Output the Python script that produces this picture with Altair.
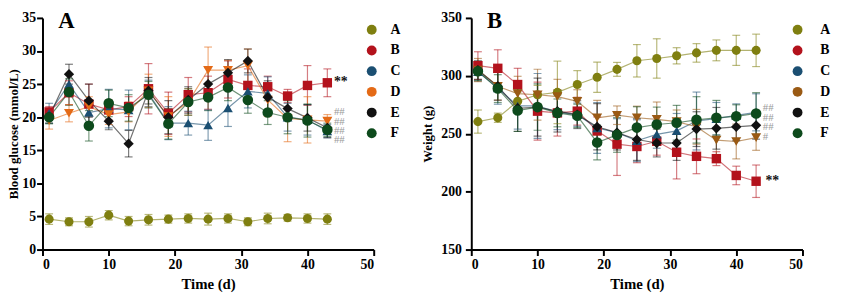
import altair as alt
import pandas as pd

days = [1, 4, 7, 10, 13, 16, 19, 22, 25, 28, 31, 34, 37, 40, 43]
groups = ["A", "B", "C", "D", "E", "F"]

# Blood glucose (mmol/L): means and error bars
glu_mean = {
    "A": [4.6, 4.2, 4.2, 5.2, 4.3, 4.5, 4.6, 4.7, 4.6, 4.7, 4.2, 4.7, 4.8, 4.7, 4.6],
    "B": [20.8, 23.7, 22.0, 21.1, 21.6, 24.3, 20.6, 23.4, 23.7, 25.7, 24.8, 24.6, 23.2, 24.8, 25.2],
    "C": [20.6, 25.0, 20.7, 21.3, 21.1, 23.6, 19.1, 19.1, 18.8, 21.4, 23.9, 23.6, 20.0, 19.6, 17.9],
    "D": [19.5, 20.6, 21.6, 20.4, 20.8, 24.0, 20.1, 22.3, 27.1, 27.1, 27.8, 22.6, 19.8, 19.6, 19.4],
    "E": [20.1, 26.5, 22.5, 19.4, 16.0, 24.0, 20.0, 22.6, 25.0, 26.7, 28.5, 23.0, 21.3, 19.9, 18.4],
    "F": [20.0, 23.8, 18.7, 22.1, 21.4, 23.4, 19.0, 22.3, 23.0, 24.5, 22.6, 20.7, 20.0, 19.5, 18.1],
}
glu_err = {
    "A": [0.8, 0.6, 0.8, 0.7, 0.7, 0.8, 0.6, 0.7, 0.9, 0.7, 0.6, 0.8, 0.5, 0.7, 0.8],
    "B": [0.8, 1.8, 3.0, 1.5, 1.5, 3.8, 3.2, 2.6, 2.5, 2.8, 2.5, 1.6, 1.0, 3.0, 2.1],
    "C": [1.5, 1.5, 1.5, 2.9, 3.0, 2.0, 2.5, 1.8, 2.3, 2.8, 2.5, 2.5, 2.1, 2.3, 1.0],
    "D": [1.3, 1.3, 1.5, 1.5, 1.5, 2.5, 3.0, 2.0, 3.5, 1.5, 2.5, 2.5, 3.5, 3.5, 1.0],
    "E": [1.0, 1.5, 2.5, 1.3, 2.0, 2.0, 2.5, 2.0, 2.5, 2.0, 1.8, 2.5, 1.5, 2.0, 1.5],
    "F": [1.0, 2.0, 2.3, 2.0, 2.0, 2.0, 2.3, 2.0, 2.0, 2.0, 2.0, 1.8, 2.5, 2.5, 1.0],
}

# Weight (g): means and error bars
wt_mean = {
    "A": [260.5, 263.8, 278.0, 283.7, 285.7, 292.5, 298.8, 305.6, 313.0, 315.0, 317.3, 319.8, 322.0, 322.0, 322.0],
    "B": [308.8, 306.5, 292.5, 269.5, 268.0, 269.5, 252.5, 241.0, 239.0, 243.5, 234.0, 230.5, 228.5, 214.0, 209.0],
    "C": [303.5, 289.5, 274.0, 274.0, 268.5, 266.5, 255.0, 251.0, 244.0, 249.5, 252.5, 261.0, 263.0, 265.8, 268.5],
    "D": [305.0, 291.0, 284.6, 283.7, 282.0, 278.0, 263.8, 266.0, 263.8, 262.4, 260.5, 256.0, 244.5, 243.3, 246.7],
    "E": [305.0, 291.0, 272.0, 273.0, 269.5, 266.5, 256.0, 251.0, 245.0, 242.0, 242.0, 254.0, 254.7, 256.0, 257.3],
    "F": [304.0, 289.0, 270.0, 273.0, 268.0, 265.5, 242.5, 249.0, 255.3, 258.0, 259.5, 262.0, 263.8, 265.0, 267.5],
}
wt_err = {
    "A": [10, 4, 8, 8, 27, 12, 13, 6, 14, 17, 7, 8, 9, 13, 14],
    "B": [12, 16, 14, 25, 20, 12, 12, 27, 14, 12, 23, 15, 6, 8, 14],
    "C": [8, 14, 20, 28, 15, 10, 22, 12, 18, 12, 15, 25, 14, 10, 16],
    "D": [10, 12, 15, 22, 15, 10, 15, 8, 10, 15, 10, 15, 18, 15, 11],
    "E": [8, 12, 20, 25, 18, 12, 20, 15, 18, 12, 15, 15, 18, 12, 12],
    "F": [8, 12, 18, 20, 12, 10, 15, 15, 18, 15, 15, 20, 15, 10, 18],
}

# significance annotations: "**" vs normal, "#"/"##" vs model
glu_star = ["**"]
glu_star_x = [44.0]
glu_star_y = [25.3]
glu_hash = ["##", "##", "##", "##"]
glu_hash_x = [44.0, 44.0, 44.0, 44.0]
glu_hash_y = [20.8, 19.3, 17.9, 16.5]

wt_star = ["**"]
wt_star_x = [44.4]
wt_star_y = [209]
wt_hash = ["##", "##", "##", "#"]
wt_hash_x = [44.0, 44.0, 44.0, 44.0]
wt_hash_y = [272.3, 263.8, 256.1, 246.8]

colors_glu = ["#7f7f10", "#b3121c", "#1b4f72", "#e46a16", "#111111", "#0d4a1c"]
colors_wt = ["#7f7f10", "#b3121c", "#1b4f72", "#9a5a14", "#111111", "#0d4a1c"]
shapes = ["circle", "square", "triangle-up", "triangle-down", "diamond", "circle"]
sizes = [85, 115, 75, 75, 45, 130]

FONT = "Liberation Serif"
W, H = 336, 235


def make_df(mean, err):
    rows = []
    for g in groups:
        for d, m, e in zip(days, mean[g], err[g]):
            rows.append({"day": d, "group": g, "mean": m, "lo": m - e, "hi": m + e})
    return pd.DataFrame(rows)


def panel(mean, err, colors, ydom, ystep, ytitle, letter, star, star_x, star_y,
          hsh, hsh_x, hsh_y, legoff, laboff, tpad, lpad):
    df = make_df(mean, err)
    xs = alt.Scale(domain=[0, 50], nice=False, padding=0, zero=False)
    ys = alt.Scale(domain=ydom, nice=False, padding=0, zero=False)
    xax = alt.Axis(title="Time (d)", values=list(range(0, 51, 10)), grid=False,
                   domainWidth=2, tickWidth=2, tickSize=6, domainColor="black",
                   tickColor="black", labelFont=FONT, labelFontWeight="bold",
                   labelFontSize=14, labelColor="black", titleFont=FONT,
                   titleFontWeight="bold", titleFontSize=15, titleColor="black",
                   labelPadding=2, titlePadding=6, labelOverlap=False)
    yax = alt.Axis(title=ytitle, values=list(range(ydom[0], ydom[1] + 1, ystep)), grid=False,
                   domainWidth=2, tickWidth=2, tickSize=6, domainColor="black",
                   tickColor="black", labelFont=FONT, labelFontWeight="bold",
                   labelFontSize=14, labelColor="black", titleFont=FONT,
                   titleFontWeight="bold", titleFontSize=13, titleColor="black",
                   labelPadding=lpad, titlePadding=tpad, labelOverlap=False)
    X = lambda f: alt.X(f"{f}:Q", scale=xs, axis=xax)
    Y = lambda f: alt.Y(f"{f}:Q", scale=ys, axis=yax)
    cnl = alt.Color("group:N", scale=alt.Scale(domain=groups, range=colors), legend=None)
    col = alt.Color("group:N", scale=alt.Scale(domain=groups, range=colors),
                    legend=alt.Legend(orient="right", offset=legoff, padding=5, title=None,
                                      labelFont=FONT, labelFontWeight="bold", labelFontSize=14,
                                      labelColor="black", rowPadding=7, labelOffset=laboff))
    shp = alt.Shape("group:N", scale=alt.Scale(domain=groups, range=shapes), legend=None)
    siz = alt.Size("group:N", scale=alt.Scale(domain=groups, range=sizes), legend=None)
    base = alt.Chart(df)
    lines = base.mark_line(strokeWidth=1.2, opacity=0.6).encode(
        x=X("day"), y=Y("mean"), color=cnl, detail="group:N")
    bars = base.mark_rule(strokeWidth=1.2, opacity=0.55).encode(
        x=X("day"), y=Y("lo"), y2="hi:Q", color=cnl)
    cap_lo = base.mark_tick(orient="horizontal", size=8, thickness=1.2, opacity=0.55).encode(
        x=X("day"), y=Y("lo"), color=cnl)
    cap_hi = base.mark_tick(orient="horizontal", size=8, thickness=1.2, opacity=0.55).encode(
        x=X("day"), y=Y("hi"), color=cnl)
    pts = base.mark_point(filled=True, opacity=1).encode(
        x=X("day"), y=Y("mean"), color=col, shape=shp, size=siz)
    stars = alt.Chart(pd.DataFrame({"t": star, "x": star_x, "y": star_y})).mark_text(
        align="left", baseline="middle", font=FONT, fontWeight="bold", fontSize=14,
        color="#111111").encode(x=X("x"), y=Y("y"), text="t:N")
    hashes = alt.Chart(pd.DataFrame({"t": hsh, "x": hsh_x, "y": hsh_y})).mark_text(
        align="left", baseline="middle", font=FONT, fontSize=11,
        color="#9a9a9a").encode(x=X("x"), y=Y("y"), text="t:N")
    let = alt.Chart(pd.DataFrame({"t": [letter]})).mark_text(
        align="left", baseline="alphabetic", font=FONT, fontWeight="bold", fontSize=23,
        color="black").encode(x=alt.value(16), y=alt.value(10), text="t:N")
    return alt.layer(lines, bars, cap_lo, cap_hi, pts, stars, hashes, let).resolve_scale(
        color="independent").properties(width=W, height=H)


left = panel(glu_mean, glu_err, colors_glu, [0, 35], 5, "Blood glucose (mmol/L)", "A",
             glu_star, glu_star_x, glu_star_y, glu_hash, glu_hash_x, glu_hash_y,
             -14, 12, 1, 1)
right = panel(wt_mean, wt_err, colors_wt, [150, 350], 50, "Weight (g)", "B",
              wt_star, wt_star_x, wt_star_y, wt_hash, wt_hash_x, wt_hash_y,
              -17, 16, 6, 4)

chart = alt.hconcat(left, right, spacing=16).properties(padding=0).configure_view(
    stroke=None).configure_legend(symbolStrokeWidth=0)

chart.save("out.html", embed_options={"renderer": "svg", "actions": False})
